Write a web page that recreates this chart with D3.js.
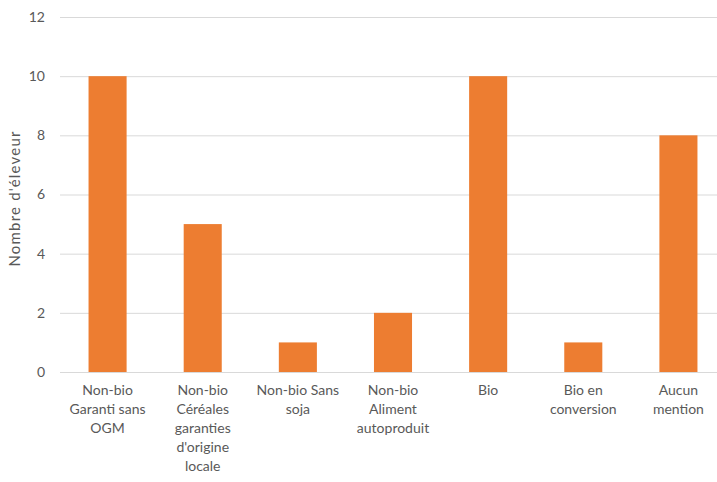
<!DOCTYPE html>
<html><head><meta charset="utf-8">
<script src="https://cdn.jsdelivr.net/npm/d3@7"></script>
<style>body{margin:0;background:#fff;} svg{display:block;}</style>
</head><body>
<svg id="chart" width="717" height="482"></svg>
<script>
const categories = ["Non-bio Garanti sans OGM","Non-bio Céréales garanties d'origine locale","Non-bio Sans soja","Non-bio Aliment autoproduit","Bio","Bio en conversion","Aucun mention"];
const labelLines = [["Non-bio","Garanti sans","OGM"],["Non-bio","Céréales","garanties","d'origine","locale"],["Non-bio Sans","soja"],["Non-bio","Aliment","autoproduit"],["Bio"],["Bio en","conversion"],["Aucun","mention"]];
const values = [10,5,1,2,10,1,8];
const yTicks = [0,2,4,6,8,10,12];
const yTitle = "Nombre d'éleveur";

const svg = d3.select("#chart");
const m = {left:60, top:17, right:726, bottom:372};
const font = "Lato, 'Open Sans', sans-serif";
const x = d3.scaleBand().domain(categories).range([m.left, m.right]).paddingInner(0.6).paddingOuter(0.3);
const y = d3.scaleLinear().domain([0,12]).range([m.bottom, m.top]);

// gridlines
svg.append("g").selectAll("line").data(yTicks).join("line")
  .attr("x1", m.left).attr("x2", m.right)
  .attr("y1", d=>y(d)+0.5).attr("y2", d=>y(d)+0.5)
  .attr("stroke", "#d9d9d9").attr("stroke-width", 1);

// y tick labels
svg.append("g").selectAll("text").data(yTicks).join("text")
  .attr("x", 45).attr("y", d=>y(d)).attr("dy","0.35em")
  .attr("text-anchor","end").attr("font-family",font).attr("font-size",14)
  .attr("fill","#595959").text(d=>d);

// bars
svg.append("g").selectAll("rect").data(values).join("rect")
  .attr("x", (d,i)=>x(categories[i])).attr("width", x.bandwidth())
  .attr("y", d=>y(d)).attr("height", d=>y(0)-y(d))
  .attr("fill", "#ED7D31");

// category labels
const lg = svg.append("g").selectAll("text").data(categories).join("text")
  .attr("x", d=>x(d)+x.bandwidth()/2).attr("y", 395).attr("dy","0.35em")
  .attr("text-anchor","middle").attr("font-family",font).attr("font-size",14)
  .attr("fill","#595959");
lg.each(function(d,i){
  d3.select(this).selectAll("tspan").data(labelLines[i]).join("tspan")
    .attr("x", x(d)+x.bandwidth()/2).attr("dy",(t,j)=>j===0?0:19).text(t=>t);
});

// y title
svg.append("text").attr("transform",`translate(15,${(m.top+m.bottom)/2+4}) rotate(-90)`)
  .attr("text-anchor","middle").attr("dy","0.35em").attr("font-family",font).attr("font-size",15)
  .attr("letter-spacing",1.2).attr("fill","#595959").text(yTitle);
</script>
</body></html>
